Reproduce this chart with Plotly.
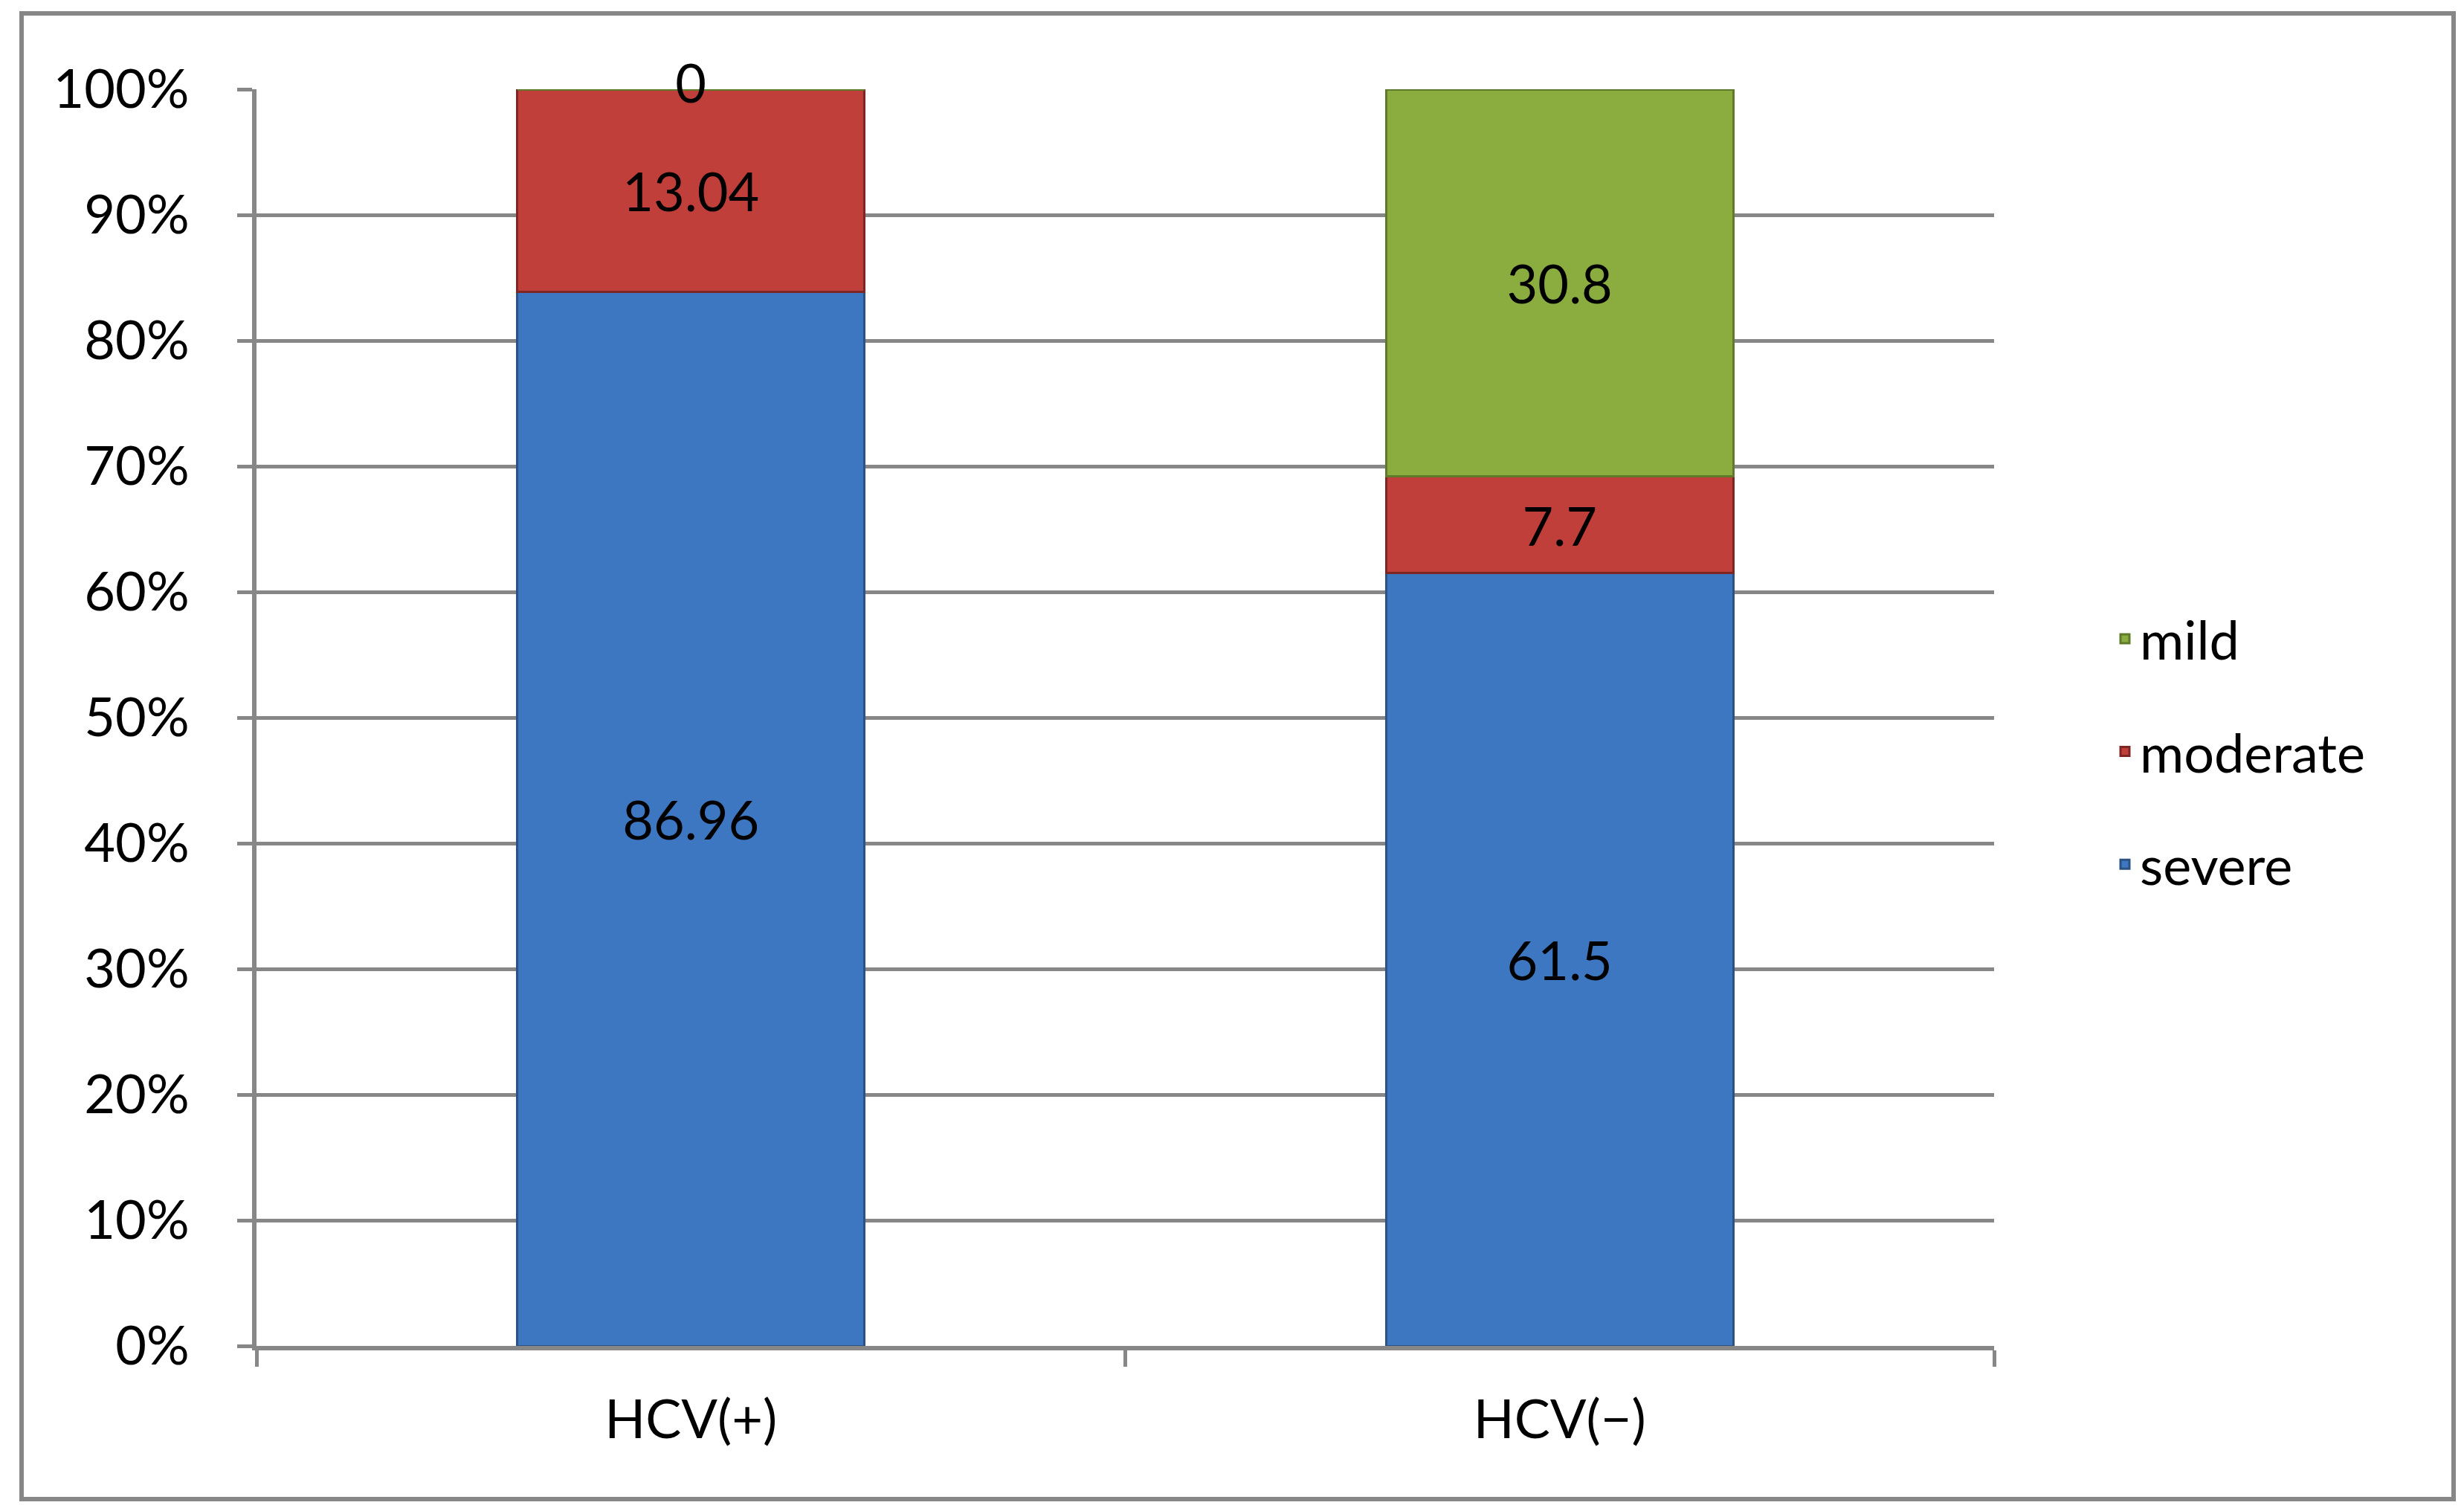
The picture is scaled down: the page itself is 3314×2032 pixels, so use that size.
import plotly.graph_objects as go

categories = ["HCV(+)", "HCV(−)"]
series_names = ["severe", "moderate", "mild"]
# segment heights as drawn in the picture (percent of bar)
severe = [83.85, 61.5]
moderate = [16.15, 7.7]
mild = [0, 30.8]
# data labels as printed on the picture
value_labels = {
    "severe": ["86.96", "61.5"],
    "moderate": ["13.04", "7.7"],
    "mild": ["0", "30.8"],
}
legend_order = ["mild", "moderate", "severe"]
y_tick_values = [0, 10, 20, 30, 40, 50, 60, 70, 80, 90, 100]
y_tick_labels = ["0%", "10%", "20%", "30%", "40%", "50%", "60%", "70%", "80%", "90%", "100%"]

colors = {"severe": "#3d77c2", "moderate": "#c13f3b", "mild": "#8bac3f"}
edge = {"severe": "#2b5283", "moderate": "#7e2624", "mild": "#5e7a2a"}

W, H = 3314, 2032
ML, MR, MT, MB = 337, 640, 112, 230
FONT = "Lato"
GRAY = "#878787"

fig = go.Figure()
data = {"severe": severe, "moderate": moderate, "mild": mild}
base = [0.0] * len(categories)
zero_x, zero_y, zero_t = [], [], []
for name in series_names:
    vals = data[name]
    fig.add_trace(go.Bar(
        x=categories, y=vals, name=name, legendgroup=name,
        legendrank=legend_order.index(name) + 1,
        marker=dict(color=colors[name], line=dict(color=edge[name], width=3)),
        text=[t if v > 0 else "" for t, v in zip(value_labels[name], vals)],
        textposition="inside", insidetextanchor="middle",
        textfont=dict(family=FONT, size=72, color="black"),
        hoverinfo="skip",
    ))
    for i, v in enumerate(vals):
        if v == 0:
            zero_x.append(categories[i])
            zero_y.append(base[i])
            zero_t.append(value_labels[name][i])
        base[i] += v

fig.add_trace(go.Scatter(
    x=zero_x, y=zero_y, text=zero_t, mode="text", textposition="middle center",
    textfont=dict(family=FONT, size=72, color="black"), showlegend=False,
    cliponaxis=False, hoverinfo="skip",
))

plot_w = W - ML - MR
plot_h = H - MT - MB
bx0, bx1, by_top, by_bot = 21, 3292, 10, 2008
fig.add_shape(type="rect", xref="paper", yref="paper",
              x0=(bx0 - ML) / plot_w, x1=(bx1 - ML) / plot_w,
              y0=(H - MB - by_bot) / plot_h, y1=(H - MB - by_top) / plot_h,
              line=dict(color=GRAY, width=6), fillcolor="rgba(0,0,0,0)", layer="below")

fig.update_layout(
    width=W, height=H,
    margin=dict(l=ML, r=MR, t=MT, b=MB, pad=0),
    barmode="stack", bargap=0.6,
    plot_bgcolor="white", paper_bgcolor="white",
    font=dict(family=FONT, size=72, color="black"),
    showlegend=True,
    legend=dict(
        x=(2830 - ML) / plot_w, y=0.473, xanchor="left", yanchor="middle",
        traceorder="grouped", tracegroupgap=55,
        font=dict(family=FONT, size=72, color="black"),
        bgcolor="rgba(0,0,0,0)", itemwidth=30,
    ),
    xaxis=dict(
        type="category", showline=True, linecolor=GRAY, linewidth=6,
        ticks="outside", tickson="boundaries", ticklen=22, tickwidth=5, tickcolor=GRAY,
        showgrid=False, tickfont=dict(family=FONT, size=72, color="black"),
        ticklabelstandoff=32,
    ),
    yaxis=dict(
        range=[0, 100], tickvals=y_tick_values, ticktext=y_tick_labels,
        showline=True, linecolor=GRAY, linewidth=6,
        ticks="outside", ticklen=20, tickwidth=5, tickcolor=GRAY,
        showgrid=True, gridcolor=GRAY, gridwidth=5, zeroline=False,
        tickfont=dict(family=FONT, size=72, color="black"),
        ticklabelstandoff=50,
    ),
)

fig.write_html("out.html")
